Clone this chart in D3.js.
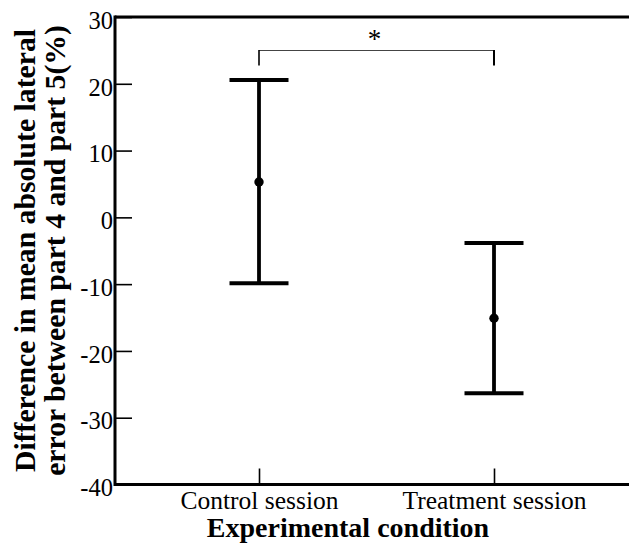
<!DOCTYPE html>
<html>
<head>
<meta charset="utf-8">
<script src="https://cdn.jsdelivr.net/npm/d3@7"></script>
<style>
  html, body { margin: 0; padding: 0; background: #fff; }
  svg { display: block; font-family: "Liberation Serif", "Times New Roman", serif; }
</style>
</head>
<body>
<svg id="chart" width="629" height="548"></svg>
<script>
// Condition means with the lower and upper ends of their error bars (%)
const categories = ["Control session", "Treatment session"];
const means = [5.3, -15.1];
const lowerEnds = [-9.85, -26.35];
const upperEnds = [20.55, -3.85];
const yTicks = [30, 20, 10, 0, -10, -20, -30, -40];
const significance = { from: "Control session", to: "Treatment session", label: "*" };

(function () {
  const plotLeft = 115, plotTop = 17, plotBottom = 484.5, plotRight = 629;
  const serif = "'Liberation Serif', 'Times New Roman', serif";

  const svg = d3.select("#chart");

  const y = d3.scaleLinear().domain([-40, 30]).range([plotBottom, plotTop]);
  const x = d3.scalePoint().domain(categories).range([141.5, 611.5]).padding(0.5);

  // Y axis with inward ticks; plain hyphen for negative labels
  const yAxis = d3.axisLeft(y).tickValues(yTicks).tickFormat(d => String(d))
    .tickSizeInner(-17).tickSizeOuter(0).tickPadding(2);
  const gy = svg.append("g").attr("transform", `translate(${plotLeft},0)`).call(yAxis);
  gy.attr("font-family", serif);
  gy.select(".domain").remove();
  gy.selectAll(".tick line").attr("stroke", "#000").attr("stroke-width", 1.6);
  gy.selectAll(".tick text")
    .attr("fill", "#000")
    .attr("font-size", 24.5)
    .attr("dy", "0.46em");

  // X axis with inward ticks at each condition
  const xAxis = d3.axisBottom(x).tickSizeInner(-16).tickSizeOuter(0).tickPadding(6);
  const gx = svg.append("g").attr("transform", `translate(0,${plotBottom})`).call(xAxis);
  gx.attr("font-family", serif);
  gx.select(".domain").remove();
  gx.selectAll(".tick line").attr("stroke", "#000").attr("stroke-width", 1.6);
  gx.selectAll(".tick text")
    .attr("fill", "#000")
    .attr("font-size", 25.5)
    .attr("dy", "0.71em");

  // Frame lines: left, bottom and top
  svg.append("line").attr("x1", plotLeft).attr("x2", plotLeft).attr("y1", plotTop - 1.5).attr("y2", plotBottom + 1.5)
    .attr("stroke", "#000").attr("stroke-width", 3);
  svg.append("line").attr("x1", plotLeft).attr("x2", plotRight).attr("y1", plotBottom).attr("y2", plotBottom)
    .attr("stroke", "#000").attr("stroke-width", 3);
  svg.append("line").attr("x1", plotLeft).attr("x2", plotRight).attr("y1", plotTop).attr("y2", plotTop)
    .attr("stroke", "#000").attr("stroke-width", 3);

  // Error bars with mean markers
  const rows = categories.map((c, i) => ({ c, m: means[i], lo: lowerEnds[i], hi: upperEnds[i] }));
  const capHalf = 29.5;
  const bars = svg.append("g");
  bars.selectAll("line.stem").data(rows).join("line").attr("class", "stem")
    .attr("x1", d => x(d.c)).attr("x2", d => x(d.c))
    .attr("y1", d => y(d.hi)).attr("y2", d => y(d.lo))
    .attr("stroke", "#000").attr("stroke-width", 3.8);
  bars.selectAll("line.capHi").data(rows).join("line").attr("class", "capHi")
    .attr("x1", d => x(d.c) - capHalf).attr("x2", d => x(d.c) + capHalf)
    .attr("y1", d => y(d.hi)).attr("y2", d => y(d.hi))
    .attr("stroke", "#000").attr("stroke-width", 4);
  bars.selectAll("line.capLo").data(rows).join("line").attr("class", "capLo")
    .attr("x1", d => x(d.c) - capHalf).attr("x2", d => x(d.c) + capHalf)
    .attr("y1", d => y(d.lo)).attr("y2", d => y(d.lo))
    .attr("stroke", "#000").attr("stroke-width", 4);
  bars.selectAll("circle").data(rows).join("circle")
    .attr("cx", d => x(d.c)).attr("cy", d => y(d.m)).attr("r", 4.7).attr("fill", "#000");

  // Significance bracket between the two conditions
  const bx1 = x(significance.from), bx2 = x(significance.to);
  const bracketY = 50.5, legY = 65.5;
  svg.append("line").attr("x1", bx1).attr("x2", bx2).attr("y1", bracketY).attr("y2", bracketY)
    .attr("stroke", "#444").attr("stroke-width", 1.2);
  svg.append("line").attr("x1", bx1).attr("x2", bx1).attr("y1", bracketY - 0.6).attr("y2", legY)
    .attr("stroke", "#000").attr("stroke-width", 1.6);
  svg.append("line").attr("x1", bx2).attr("x2", bx2).attr("y1", bracketY - 0.6).attr("y2", legY)
    .attr("stroke", "#000").attr("stroke-width", 2);
  svg.append("text").attr("x", (bx1 + bx2) / 2 - 2).attr("y", 48)
    .attr("text-anchor", "middle").attr("font-size", 27).attr("fill", "#000")
    .attr("font-family", serif)
    .text(significance.label);

  // Axis titles
  svg.append("text").attr("x", 348).attr("y", 537)
    .attr("text-anchor", "middle").attr("font-size", 28).attr("font-weight", "bold").attr("fill", "#000")
    .attr("font-family", serif)
    .text("Experimental condition");

  const yTitle = svg.append("text")
    .attr("transform", "translate(0,250.5) rotate(-90)")
    .attr("text-anchor", "middle").attr("font-size", 29.7).attr("font-weight", "bold").attr("fill", "#000")
    .attr("font-family", serif);
  yTitle.append("tspan").attr("x", 0).attr("y", 35).text("Difference in mean absolute lateral");
  yTitle.append("tspan").attr("x", 0).attr("y", 65).text("error between part 4 and part 5(%)");
})();
</script>
</body>
</html>
